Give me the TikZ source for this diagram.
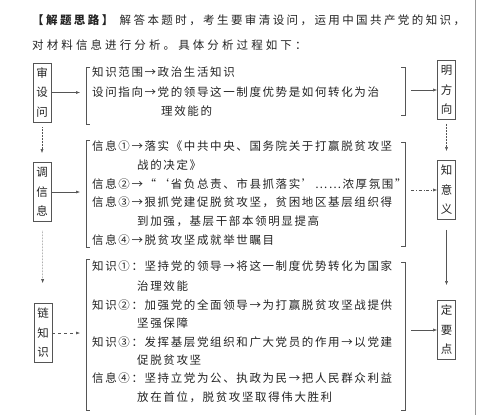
\documentclass[tikz,border=0pt]{standalone}
\usepackage{fontspec}
\setmainfont{Noto Sans CJK SC}[LetterSpace=14]
\newfontfamily\headfont{Noto Sans CJK SC}[LetterSpace=21]
\newfontfamily\headfontb{Noto Sans CJK SC}[LetterSpace=27]
\newfontfamily\boxfont{Noto Sans CJK SC}
\usetikzlibrary{arrows.meta}
\definecolor{inkcol}{RGB}{35,35,35}
\definecolor{rulecol}{RGB}{85,85,85}

\begin{document}
\begin{tikzpicture}[
  x=1pt, y=-1pt, inkcol,
  font=\fontsize{11.5}{14}\selectfont,
  stepbox/.style={draw=rulecol, line width=0.6pt, minimum width=18pt,
    minimum height=59pt, inner sep=0pt, align=center,
    font=\fontsize{11.5}{19.5}\boxfont},
  ln/.style={anchor=west, inner sep=0pt},
  link/.style={rulecol, line width=0.5pt, -{Latex[length=4pt,width=3pt]}},
  brk/.style={rulecol, line width=0.6pt}
]
  \useasboundingbox (0,0) rectangle (478,415);
  \draw[black!40, line width=0.6pt] (475,0) -- (475,415);

  % heading
  \node[ln, font=\fontsize{11.5}{14}\headfont] (head1) at (32,20)
    {\textbf{【解题思路】}\hspace{4pt}解答本题时，考生要审清设问，运用中国共产党的知识，};
  \node[ln, font=\fontsize{11.5}{14}\headfontb] (head2) at (32,45)
    {对材料信息进行分析。具体分析过程如下：};

  % left and right steps
  \node[stepbox] (shen) at (42,92.5) {审\\设\\问};
  \node[stepbox] (tiao) at (42,192)  {调\\信\\息};
  \node[stepbox] (lian) at (43,333)  {链\\知\\识};
  \node[stepbox] (ming) at (446.5,90)  {明\\方\\向};
  \node[stepbox] (zhi)  at (446.5,190) {知\\意\\义};
  \node[stepbox] (ding) at (446.5,330) {定\\要\\点};

  % brackets
  \draw[brk] (90,67) -- (86,67) -- (86,124) -- (90,124);
  \draw[brk] (401,67) -- (405,67) -- (405,115) -- (401,115);
  \draw[brk] (90,140) -- (86,140) -- (86,247) -- (90,247);
  \draw[brk] (401,142) -- (405,142) -- (405,246) -- (401,246);
  \draw[brk] (90,259) -- (86,259) -- (86,410) -- (90,410);
  \draw[brk] (401,262) -- (405,262) -- (405,410) -- (401,410);

  \coordinate (b1w) at (80,92.5);
  \coordinate (b2w) at (80,192);
  \coordinate (b3w) at (80,333);
  \coordinate (b1e) at (411,90);
  \coordinate (b2e) at (411,190);
  \coordinate (b3e) at (411,330);

  % group 1
  \foreach \n/\X/\Y/\txt in {a/92/72/{知识范围→政治生活知识},
      b/92/92/{设问指向→党的领导这一制度优势是如何转化为治},
      c/161/111/{理效能的}}
    \node[ln] (g1\n) at (\X,\Y) {\txt};

  % group 2
  \foreach \n/\X/\Y/\txt in {a/92/146/{信息①→落实《中共中央、国务院关于打赢脱贫攻坚},
      b/137/165/{战的决定》},
      c/92/184/{信息②→“‘省负总责、市县抓落实’……浓厚氛围”},
      d/92/202/{信息③→狠抓党建促脱贫攻坚，贫困地区基层组织得},
      e/137/221/{到加强，基层干部本领明显提高},
      f/92/240/{信息④→脱贫攻坚成就举世瞩目}}
    \node[ln] (g2\n) at (\X,\Y) {\txt};

  % group 3
  \foreach \n/\X/\Y/\txt in {a/92/266/{知识①：坚持党的领导→将这一制度优势转化为国家},
      b/137/286/{治理效能},
      c/92/305/{知识②：加强党的全面领导→为打赢脱贫攻坚战提供},
      d/137/323/{坚强保障},
      e/92/342/{知识③：发挥基层党组织和广大党员的作用→以党建},
      f/137/360/{促脱贫攻坚},
      g/92/378/{信息④：坚持立党为公、执政为民→把人民群众利益},
      h/137/397/{放在首位，脱贫攻坚取得伟大胜利}}
    \node[ln] (g3\n) at (\X,\Y) {\txt};

  % connectors
  \draw[link] (shen) -- (b1w);
  \draw[link] (tiao) -- (b2w);
  \draw[link, dashed] (lian) -- (b3w);
  \draw[link] (b1e) -- (ming);
  \draw[link, dash dot] (b2e) -- (zhi);
  \draw[link] (b3e) -- (ding);

  \draw[link, densely dotted, shorten <=5pt, shorten >=9pt] (shen) -- (tiao);
  \draw[link, densely dotted, shorten <=9pt, shorten >=20pt] (tiao) -- (lian);
  \draw[link, densely dotted, shorten <=4pt, shorten >=9pt] (ming) -- (zhi);
  \draw[link, shorten <=10pt, shorten >=15pt] (zhi) -- (ding);

\end{tikzpicture}
\end{document}
